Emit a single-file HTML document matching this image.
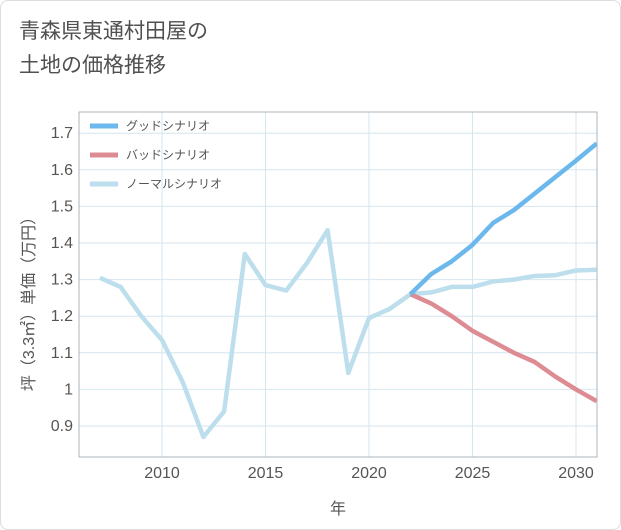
<!DOCTYPE html>
<html><head><meta charset="utf-8"><style>
body{margin:0;background:#fff;}
#card{position:absolute;left:0;top:0;width:619px;height:528px;border:1px solid #ddd;border-radius:8px;background:#fff;}
.t{font-family:"Liberation Sans","Noto Sans CJK JP",sans-serif;}
</style></head><body>
<div id="card">
<div class="t" style="position:absolute;left:18px;top:14px;font-size:21px;line-height:34px;color:#505050;">青森県東通村田屋の<br>土地の価格推移</div>
</div>
<svg id="chart" width="621" height="530" style="position:absolute;left:0;top:0"></svg>
<script>
const years=[2007,2008,2009,2010,2011,2012,2013,2014,2015,2016,2017,2018,2019,2020,2021,2022,2023,2024,2025,2026,2027,2028,2029,2030,2031];
const normalVals=[1.305,1.28,1.2,1.135,1.02,0.87,0.94,1.37,1.285,1.27,1.345,1.435,1.045,1.195,1.22,1.26,1.265,1.28,1.28,1.295,1.30,1.31,1.312,1.325,1.327];
const goodYears=[2022,2023,2024,2025,2026,2027,2028,2029,2030,2031];
const goodVals=[1.26,1.315,1.35,1.395,1.455,1.49,1.535,1.58,1.625,1.672];
const badVals=[1.26,1.235,1.2,1.16,1.13,1.10,1.075,1.035,1.0,0.968];
const xTicks=[2010,2015,2020,2025,2030];
const yTicks=[0.9,1,1.1,1.2,1.3,1.4,1.5,1.6,1.7];
const yLabels=["0.9","1","1.1","1.2","1.3","1.4","1.5","1.6","1.7"];
const seriesNames=["グッドシナリオ","バッドシナリオ","ノーマルシナリオ"];
const seriesColors=["#6cb8ec","#de8c94","#bddeec"];

const L=79,R=597,T=112,B=457;
const x=y=>162+(y-2010)*20.7;
const yS=v=>426-(v-0.9)*366;
const svg=document.getElementById('chart');
const NS='http://www.w3.org/2000/svg';
function mk(tag,attrs,parent){const e=document.createElementNS(NS,tag);for(const k in attrs)e.setAttribute(k,attrs[k]);(parent||svg).appendChild(e);return e;}
xTicks.forEach(t=>{
 const g=mk('line',{x1:x(t),x2:x(t),y1:T,y2:B,stroke:'#d5e6f0','stroke-width':1});
 
 
 const l=mk('text',{x:x(t),y:478,'text-anchor':'middle','font-size':16,fill:'#555',class:'t'});
 l.textContent=t;
 
 
});
yTicks.forEach((t,i)=>{
 const g=mk('line',{x1:L,x2:R,y1:yS(t),y2:yS(t),stroke:'#d5e6f0','stroke-width':1});
 
 
 const l=mk('text',{x:73,y:yS(t)+5,'text-anchor':'end','font-size':16,fill:'#555',class:'t'});
 l.textContent=yLabels[i];
 
 
});
const fr=mk('rect',{x:L,y:T,width:R-L,height:B-T,fill:'none',stroke:'#aab4bb','stroke-width':1});


function line(xs,vs,color,name){
 const d=xs.map((yr,i)=>(i?'L':'M')+x(yr)+','+yS(vs[i])).join(' ');
 const p=mk('path',{d:d,fill:'none',stroke:color,'stroke-width':4.5,'stroke-linejoin':'round','clip-path':'url(#clip)'});
 
 
}
const defs=mk('defs',{});const cp=mk('clipPath',{id:'clip'},defs);mk('rect',{x:L,y:T,width:R-L,height:B-T},cp);
line(years,normalVals,seriesColors[2],'normal-scenario-line');
line(goodYears,badVals,seriesColors[1],'bad-scenario-line');
line(goodYears,goodVals,seriesColors[0],'good-scenario-line');
seriesNames.forEach((n,i)=>{
 const yy=126+i*29;
 const s=mk('line',{x1:90,x2:118,y1:yy,y2:yy,stroke:seriesColors[i],'stroke-width':5});
 
 
 const t=mk('text',{x:126,y:yy+4,'font-size':12,fill:'#555',class:'t'});
 t.textContent=n;
 
 
});
const xt=mk('text',{x:338,y:514,'text-anchor':'middle','font-size':16,fill:'#555',class:'t'});
xt.textContent='年';


const yt=mk('text',{x:0,y:0,'text-anchor':'middle','font-size':16,fill:'#555',class:'t',transform:'translate(34,300) rotate(-90)'});
yt.textContent='坪（3.3㎡）単価（万円）';


</script>
</body></html>
